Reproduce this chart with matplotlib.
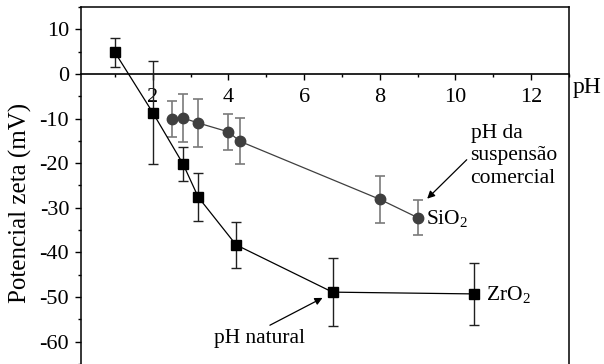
import numpy as np
import matplotlib
matplotlib.use("Agg")
import matplotlib.pyplot as plt
from matplotlib.ticker import MultipleLocator

plt.rcParams['font.family'] = ['Liberation Serif', 'DejaVu Serif']
plt.rcParams['mathtext.fontset'] = 'custom'
plt.rcParams['mathtext.rm'] = 'Liberation Serif'
plt.rcParams['axes.unicode_minus'] = False

# ZrO2 (black squares)
ph_zr = [1.0, 2.0, 2.8, 3.2, 4.2, 6.75, 10.5]
zeta_zr = [4.8, -8.7, -20.2, -27.6, -38.3, -48.9, -49.3]
err_zr = [3.3, 11.5, 3.9, 5.3, 5.2, 7.6, 7.0]

# SiO2 (grey circles)
ph_si = [2.5, 2.8, 3.2, 4.0, 4.3, 8.0, 9.0]
zeta_si = [-10.1, -9.9, -11.0, -13.0, -15.1, -28.1, -32.2]
err_si = [4.0, 5.3, 5.3, 4.1, 5.2, 5.3, 3.9]

fig = plt.figure(figsize=(6.04, 3.64), dpi=100)
ax = fig.add_axes([0.134, 0.0, 0.808, 0.981])

# series
ax.errorbar(ph_si, zeta_si, yerr=err_si, color='#3f3f3f', ecolor='#7a7a7a',
            marker='o', markersize=7.5, lw=0.9, elinewidth=1.2, capsize=3.5, capthick=1.2, zorder=3)
ax.errorbar(ph_zr, zeta_zr, yerr=err_zr, color='black', ecolor='#202020',
            marker='s', markersize=6.5, lw=0.9, elinewidth=1.0, capsize=3.5, capthick=1.0, zorder=4)

ax.set_xlim(0.1, 13)
ax.set_ylim(-65, 15)

# eixos estilo Origin: eixo x passa pelo zero
ax.spines['bottom'].set_position(('data', 0))
ax.spines['bottom'].set_zorder(1)
for s in ax.spines.values():
    s.set_linewidth(1.1)
ax.spines['bottom'].set_linewidth(1.2)

ax.xaxis.set_major_locator(MultipleLocator(2))
ax.xaxis.set_minor_locator(MultipleLocator(1))
ax.yaxis.set_major_locator(MultipleLocator(10))
ax.yaxis.set_minor_locator(MultipleLocator(5))
ax.tick_params(axis='both', which='major', labelsize=16, length=4.5, width=1.0, pad=4)
ax.tick_params(axis='both', which='minor', length=2.5, width=1.0)
ax.tick_params(axis='x', which='major', pad=6)
ax.set_xticks([2, 4, 6, 8, 10, 12])

ax.set_ylabel("Potencial zeta (mV)", fontsize=18)
ax.yaxis.set_label_coords(-0.10, 0.45)
ax.text(1.008, 0.775, "pH", transform=ax.transAxes, fontsize=17, ha='left', va='center')

# anotacoes
ax.text(10.4, -18.4, "pH da\nsuspensão\ncomercial", fontsize=15.5, ha='left', va='center',
        linespacing=1.25)
ax.annotate("", xy=(9.2, -28.4), xytext=(10.35, -18.8),
            arrowprops=dict(arrowstyle='-|>', color='black', lw=0.9, mutation_scale=11))
ax.text(3.62, -59.2, "pH natural", fontsize=15.5, ha='left', va='center')
ax.annotate("", xy=(6.55, -49.9), xytext=(5.03, -56.6),
            arrowprops=dict(arrowstyle='-|>', color='black', lw=0.9, mutation_scale=11))
ax.text(9.22, -32.6, "SiO$_2$", fontsize=15.5, ha='left', va='center')
ax.text(10.82, -49.6, "ZrO$_2$", fontsize=15.5, ha='left', va='center')

fig.savefig("out.png", dpi=100)
